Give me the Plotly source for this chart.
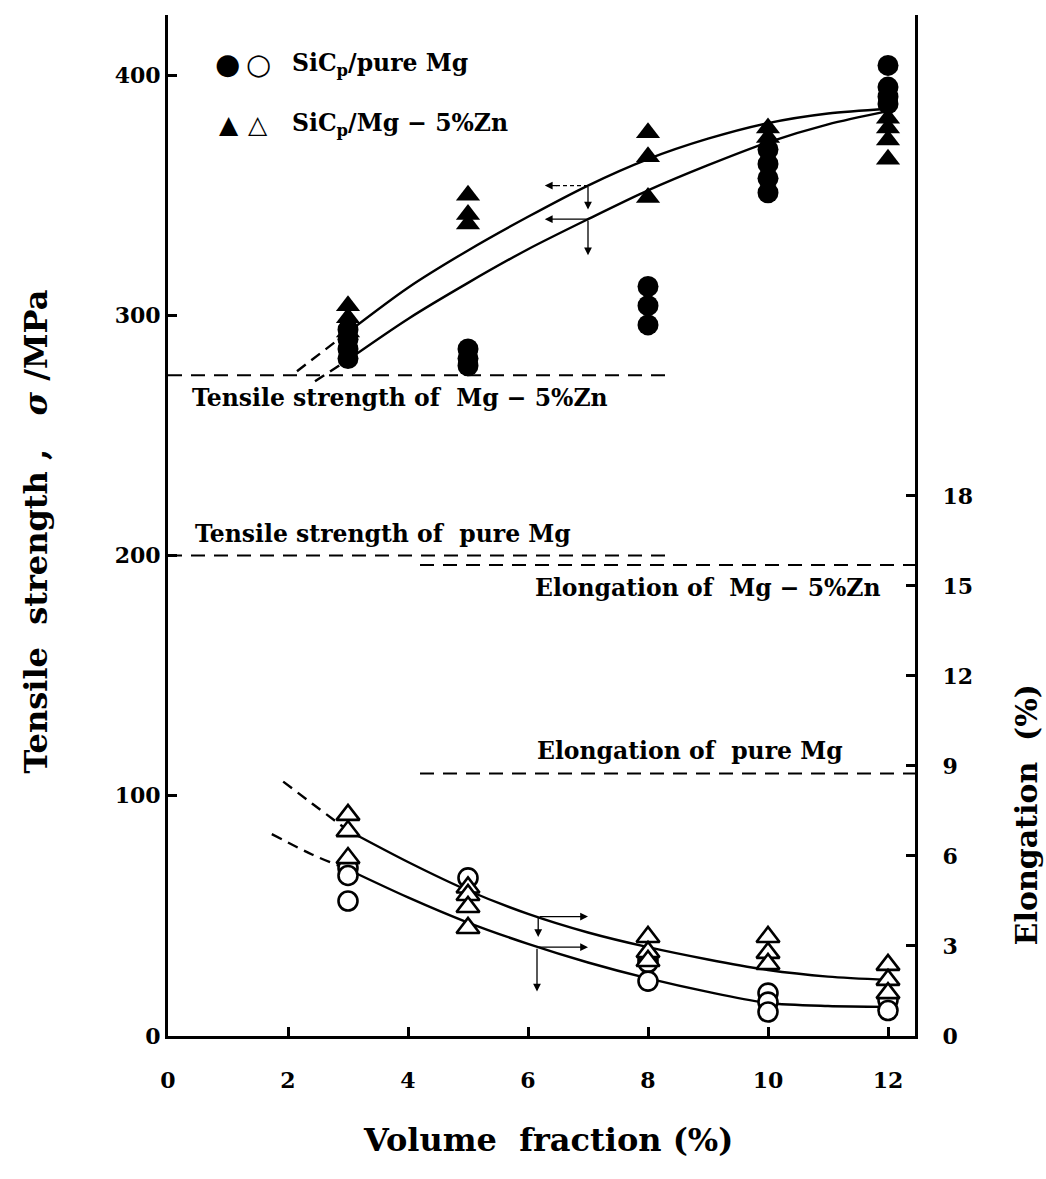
import plotly.graph_objects as go

# ---------------- data ----------------
# Tensile strength (MPa, left axis)
ts_mg_x = [3, 3, 3, 3, 5, 5, 5, 8, 8, 8, 10, 10, 10, 10, 12, 12, 12, 12]
ts_mg_y = [294, 290, 286, 282, 286, 282, 279, 312, 304, 296, 369, 363, 357, 351, 404, 395, 391, 388]
ts_zn_x = [3, 3, 3, 5, 5, 5, 8, 8, 8, 10, 10, 12, 12, 12, 12]
ts_zn_y = [304, 299, 293, 350, 342, 338, 376, 366, 349, 378, 374, 382, 378, 373, 365]

# Elongation (%, right axis)
el_mg_x = [3, 3, 3, 5, 8, 8, 8, 10, 10, 10, 12, 12]
el_mg_y = [5.6, 5.35, 4.5, 5.27, 2.6, 2.45, 1.83, 1.43, 1.13, 0.8, 1.2, 0.85]
el_zn_x = [3, 3, 3, 5, 5, 5, 5, 8, 8, 8, 10, 10, 10, 12, 12, 12]
el_zn_y = [7.37, 6.83, 5.93, 4.95, 4.7, 4.3, 3.6, 3.3, 2.8, 2.5, 3.3, 2.77, 2.4, 2.37, 1.87, 1.43]

# Fitted curves
fit_x = [3, 4, 5, 6, 7, 8, 9, 10, 11, 12]
ts_zn_fit = [293, 311.5, 327, 341, 354, 365, 373.5, 380, 384, 386]
ts_mg_fit = [281.5, 298.5, 313.5, 327.5, 340, 352, 362.5, 372, 379.5, 385]
el_zn_fit = [6.85, 5.8, 4.85, 4.07, 3.45, 2.96, 2.55, 2.2, 1.98, 1.87]
el_mg_fit = [5.55, 4.62, 3.78, 3.07, 2.45, 1.92, 1.47, 1.1, 1.0, 0.97]

# Dashed extrapolations
ts_zn_ext_x, ts_zn_ext_y = [2.15, 3.0], [276.7, 293]
ts_mg_ext_x, ts_mg_ext_y = [2.45, 3.0], [272.5, 281.5]
el_zn_ext_x, el_zn_ext_y = [1.92, 2.4, 3.0], [8.48, 7.75, 6.85]
el_mg_ext_x, el_mg_ext_y = [1.73, 2.4, 3.0], [6.73, 6.05, 5.55]

# Reference levels of the matrix alloys
ts_ref_zn = 275      # MPa
ts_ref_mg = 200      # MPa
el_ref_zn = 15.7     # %
el_ref_mg = 8.75     # %
ts_ref_span = [0, 8.3]
el_ref_span = [4.2, 12.45]

x_ticks = [0, 2, 4, 6, 8, 10, 12]
y_ticks = [0, 100, 200, 300, 400]
y2_ticks = [0, 3, 6, 9, 12, 15, 18]

# ---------------- figure ----------------
FONT = "DejaVu Serif"
BLACK = "black"
fig = go.Figure()

def line(x, y, axis="y", dash="solid", width=2.4):
    fig.add_trace(go.Scatter(x=x, y=y, yaxis=axis, mode="lines",
                             line=dict(color=BLACK, width=width, dash=dash, shape="spline", smoothing=0.8),
                             showlegend=False, hoverinfo="skip"))

# reference dashed lines
line(ts_ref_span, [ts_ref_zn] * 2, dash="14px,9px", width=2)
line(ts_ref_span, [ts_ref_mg] * 2, dash="14px,9px", width=2)
line(el_ref_span, [el_ref_zn] * 2, axis="y2", dash="14px,9px", width=2)
line(el_ref_span, [el_ref_mg] * 2, axis="y2", dash="14px,9px", width=2)

# fitted curves
line(fit_x, ts_zn_fit)
line(fit_x, ts_mg_fit)
line(fit_x, el_zn_fit, axis="y2")
line(fit_x, el_mg_fit, axis="y2")
line(ts_zn_ext_x, ts_zn_ext_y, dash="11px,7px")
line(ts_mg_ext_x, ts_mg_ext_y, dash="11px,7px")
line(el_zn_ext_x, el_zn_ext_y, axis="y2", dash="11px,7px")
line(el_mg_ext_x, el_mg_ext_y, axis="y2", dash="11px,7px")

# markers
fig.add_trace(go.Scatter(x=ts_mg_x, y=ts_mg_y, mode="markers", name="SiCp/pure Mg",
                         marker=dict(symbol="circle", size=21, color=BLACK), showlegend=False))
fig.add_trace(go.Scatter(x=ts_zn_x, y=ts_zn_y, mode="markers", name="SiCp/Mg-5%Zn",
                         marker=dict(symbol="triangle-up", size=21, color=BLACK), showlegend=False))
fig.add_trace(go.Scatter(x=el_mg_x, y=el_mg_y, yaxis="y2", mode="markers", name="SiCp/pure Mg",
                         marker=dict(symbol="circle", size=19, color="white",
                                     line=dict(color=BLACK, width=2.6)), showlegend=False))
fig.add_trace(go.Scatter(x=el_zn_x, y=el_zn_y, yaxis="y2", mode="markers", name="SiCp/Mg-5%Zn",
                         marker=dict(symbol="triangle-up", size=20, color="white",
                                     line=dict(color=BLACK, width=2.6)), showlegend=False))

annotations = []
shapes = []
LBL = 23.5

def text(x, y, s, size=LBL, yref="y", xanchor="left"):
    annotations.append(dict(x=x, y=y, xref="x", yref=yref, text=s, showarrow=False,
                            xanchor=xanchor, yanchor="middle",
                            font=dict(family=FONT, size=size, color=BLACK, weight="bold")))

text(0.37, 265.5, "Tensile strength of  Mg − 5%Zn")
text(0.42, 209, "Tensile strength of  pure Mg")
text(6.08, 186.5, "Elongation of  Mg − 5%Zn")
text(6.12, 118.5, "Elongation of  pure Mg")

# legend
def glyph(px, py, ch, size):
    annotations.append(dict(x=px, y=py, xref="paper", yref="paper", text=ch, showarrow=False,
                            xanchor="center", yanchor="middle",
                            font=dict(family="DejaVu Sans", size=size, color=BLACK)))

glyph(0.0803, 0.952, "●", 29)
glyph(0.1205, 0.952, "○", 29)
glyph(0.0816, 0.893, "▲", 25)
glyph(0.1205, 0.893, "△", 25)
annotations.append(dict(x=0.163, y=0.952, xref="paper", yref="paper", text="SiC<sub>p</sub>/pure Mg",
                        showarrow=False, xanchor="left", yanchor="middle",
                        font=dict(family=FONT, size=LBL, color=BLACK, weight="bold")))
annotations.append(dict(x=0.163, y=0.893, xref="paper", yref="paper", text="SiC<sub>p</sub>/Mg − 5%Zn",
                        showarrow=False, xanchor="left", yanchor="middle",
                        font=dict(family=FONT, size=LBL, color=BLACK, weight="bold")))

# axis-reading arrows
def arrow(x0, y0, x1, y1, yref="y"):
    annotations.append(dict(x=x1, y=y1, ax=x0, ay=y0, xref="x", yref=yref, axref="x", ayref=yref,
                            text="", showarrow=True, arrowhead=2, arrowsize=1.2, arrowwidth=1.3,
                            arrowcolor=BLACK))

# tensile: read left
shapes.append(dict(type="line", xref="x", yref="y", x0=7.0, x1=6.45, y0=354, y1=354,
                   line=dict(color=BLACK, width=1.3, dash="4px,3px")))
arrow(6.5, 354, 6.28, 354)
arrow(7.0, 354, 7.0, 344)
arrow(7.0, 340, 6.28, 340)
arrow(7.0, 340, 7.0, 325)
# elongation: read right
arrow(6.17, 3.98, 7.0, 3.98, yref="y2")
arrow(6.17, 3.98, 6.17, 3.3, yref="y2")
arrow(6.15, 2.96, 7.0, 2.96, yref="y2")
arrow(6.15, 2.96, 6.15, 1.48, yref="y2")

# axis titles
annotations.append(dict(x=0.5087, y=-0.102, xref="paper", yref="paper", text="Volume  fraction (%)",
                        showarrow=False, xanchor="center", yanchor="middle",
                        font=dict(family=FONT, size=32, color=BLACK, weight="bold")))
annotations.append(dict(x=-0.176, y=0.4936, xref="paper", yref="paper",
                        text="Tensile  strength ,   <i>σ</i> /MPa", textangle=-90,
                        showarrow=False, xanchor="center", yanchor="middle",
                        font=dict(family=FONT, size=32, color=BLACK, weight="bold")))
annotations.append(dict(x=1.1505, y=0.2165, xref="paper", yref="paper", text="Elongation  (%)",
                        textangle=-90, showarrow=False, xanchor="center", yanchor="middle",
                        font=dict(family=FONT, size=30, color=BLACK, weight="bold")))

tickfont = dict(family=FONT, size=22, color=BLACK, weight="bold")
axis_common = dict(showline=True, linewidth=3, linecolor=BLACK, ticks="inside", ticklen=9,
                   tickwidth=2.5, tickcolor=BLACK, showgrid=False, zeroline=False, tickfont=tickfont)

fig.update_layout(
    width=1046, height=1179,
    margin=dict(l=168, r=131, t=15, b=143),
    plot_bgcolor="white", paper_bgcolor="white",
    xaxis=dict(range=[0, 12.45], tickvals=x_ticks, ticklabelstandoff=23, **axis_common),
    yaxis=dict(range=[0, 425], tickvals=y_ticks, ticklabelstandoff=0, **axis_common),
    yaxis2=dict(range=[0, 34.03], tickvals=y2_ticks, overlaying="y", side="right",
                ticklabelstandoff=20, **axis_common),
    annotations=annotations, shapes=shapes, showlegend=False,
)

fig.write_html("out.html")
